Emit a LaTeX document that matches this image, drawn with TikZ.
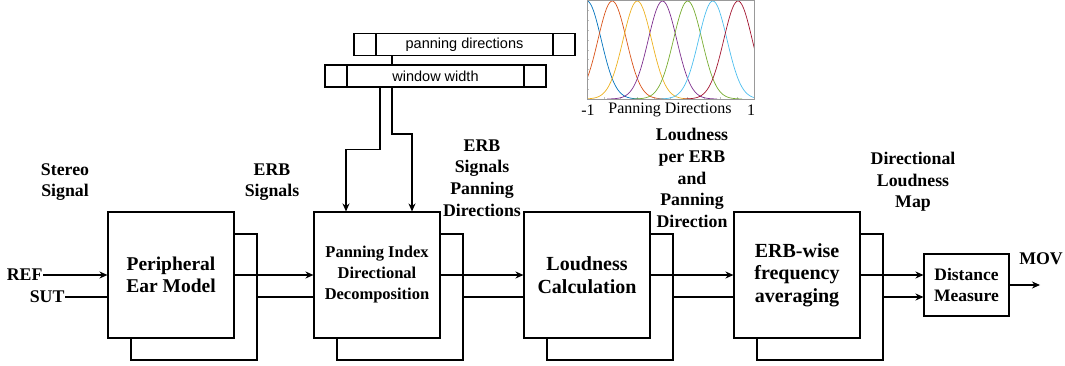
\documentclass[tikz,border=0pt]{standalone}
\usepackage{fontspec}
\setmainfont{Liberation Serif}
\newfontfamily\guifont{Liberation Sans}
\usetikzlibrary{arrows.meta}
\definecolor{mlblue}{rgb}{0,0.447,0.741}
\definecolor{mlorange}{rgb}{0.85,0.325,0.098}
\definecolor{mlyellow}{rgb}{0.929,0.694,0.125}
\definecolor{mlpurple}{rgb}{0.494,0.184,0.556}
\definecolor{mlgreen}{rgb}{0.466,0.674,0.188}
\definecolor{mlcyan}{rgb}{0.301,0.745,0.933}
\definecolor{mlred}{rgb}{0.635,0.078,0.184}
\begin{document}
\begin{tikzpicture}
	[x=1pt, y=-1pt, line width=1.1pt,
	block/.style={draw, fill=white, minimum width=126pt, minimum height=126pt, align=center, inner sep=2pt, font=\fontsize{20}{22.5}\selectfont\bfseries},
	blockback/.style={draw, fill=white, minimum width=126pt, minimum height=126pt},
	lbl/.style={align=center, inner sep=0pt, font=\fontsize{17.8}{21.7}\selectfont\bfseries},
	slider/.style={draw, fill=white, minimum width=221pt, minimum height=22pt, inner sep=0pt, font=\guifont\fontsize{14.5}{16}\selectfont,
		path picture={\draw ([xshift=22pt]path picture bounding box.north west) -- ([xshift=22pt]path picture bounding box.south west)
			([xshift=-22pt]path picture bounding box.north east) -- ([xshift=-22pt]path picture bounding box.south east);}},
	curve/.style={line width=0.7pt, samples=70},
	arr/.style={-{Stealth[length=8pt,width=7pt]}}]
	\useasboundingbox (0,0) rectangle (1065,366);
	% processing blocks
	\node[blockback] (earB) at (194,297) {};
	\node[block, font=\fontsize{19.5}{22}\selectfont\bfseries] (ear) at (171,275) {Peripheral\\Ear Model};
	\node[blockback] (panB) at (400,297) {};
	\node[block, font=\fontsize{16.5}{21}\selectfont\bfseries] (pan) at (377,275) {Panning Index\\Directional\\Decomposition};
	\node[blockback] (loudB) at (610,297) {};
	\node[block] (loud) at (587,275) {Loudness\\Calculation};
	\node[blockback] (avgB) at (820,297) {};
	\node[block] (avg) at (797,275) {ERB-wise\\frequency\\averaging};
	\node[draw, fill=white, minimum width=85pt, minimum height=62pt, align=center, inner sep=1pt, font=\fontsize{17.5}{21.7}\selectfont\bfseries] (dist) at (966.5,285) {Distance\\Measure};
	% inputs and output
	\node[lbl, anchor=east] (ref) at (43,275) {REF};
	\node[lbl, anchor=east] (sut) at (65,297) {SUT};
	\coordinate (mov) at (1040,285);
	\node[lbl] (movlbl) at (1041,259) {MOV};
	\draw[arr] (ref.east) -- (ref.east -| ear.west);
	\draw (sut.east) -- (sut.east -| ear.west);
	\draw[arr] (ear) -- (pan);
	\draw (earB) -- (earB -| pan.west);
	\draw[arr] (pan) -- (loud);
	\draw (panB) -- (panB -| loud.west);
	\draw[arr] (loud) -- (avg);
	\draw (loudB) -- (loudB -| avg.west);
	\draw[arr] (avg.east) -- (avg.east -| dist.west);
	\draw[arr] (avgB.east) -- (avgB.east -| dist.west);
	\draw[arr] (dist) -- (mov);
	% parameters
	\node[slider] (pd) at (464.5,44.5) {panning directions};
	\draw[arr] ([xshift=-72.5pt]pd.south) -- ++(0,78) -| ([xshift=35pt]pan.north);
	\node[slider] (ww) at (435.5,76) {window width};
	\draw[arr] ([xshift=-55.5pt]ww.south) -- ++(0,62) -| ([xshift=-31pt]pan.north);
	% signal labels
	\node[lbl] (stereo) at (65,182) {Stereo\\Signal};
	\node[lbl] (erbsig) at (272,182) {ERB\\Signals};
	\node[lbl] (erbpan) at (482,178) {ERB\\Signals\\Panning\\Directions};
	\node[lbl] (lpe) at (692,178) {Loudness\\per ERB\\and\\Panning\\Direction};
	\node[lbl] (dlm) at (913,182) {Directional\\Loudness\\Map};
	% window functions
	\foreach \t in {1,2,...,9} {
		\draw[gray!50, line width=0.3pt] (587,{0.5+9.85*\t}) -- ++(2,0);
		\draw[gray!50, line width=0.3pt] ({587+16.7*\t},99) -- ++(0,-2);
	}
	\begin{scope}
		\clip (587,0) rectangle (754,99);
		\draw[curve, mlblue, domain=532:642] plot (\x, {99-98*exp(-0.5*((\x-587)/14.2)^2)});
		\draw[curve, mlorange, domain=557:667] plot (\x, {99-98*exp(-0.5*((\x-612.2)/14.2)^2)});
		\draw[curve, mlyellow, domain=582:692] plot (\x, {99-98*exp(-0.5*((\x-637.3)/14.2)^2)});
		\draw[curve, mlpurple, domain=607:717] plot (\x, {99-98*exp(-0.5*((\x-662.5)/14.2)^2)});
		\draw[curve, mlgreen, domain=632:742] plot (\x, {99-98*exp(-0.5*((\x-687.7)/14.2)^2)});
		\draw[curve, mlcyan, domain=657:767] plot (\x, {99-98*exp(-0.5*((\x-712.8)/14.2)^2)});
		\draw[curve, mlred, domain=683:793] plot (\x, {99-98*exp(-0.5*((\x-738)/14.2)^2)});
	\end{scope}
	\draw[gray!80, line width=0.6pt] (587,0.6) rectangle (754,99);
	\node[font=\fontsize{16}{18}\selectfont] (tmin) at (588,110) {-1};
	\node[font=\fontsize{16}{18}\selectfont] (tmax) at (751,110) {1};
	\node[font=\fontsize{16}{18}\selectfont] (pdir) at (670,110) {Panning Directions};
\end{tikzpicture}
\end{document}
